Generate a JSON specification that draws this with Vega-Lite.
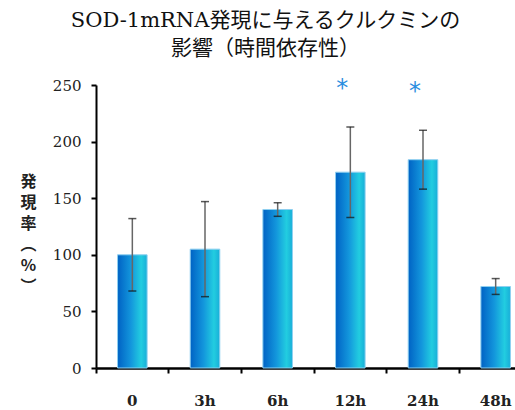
{
  "$schema": "https://vega.github.io/schema/vega-lite/v6.json",
  "autosize": "none",
  "padding": {"left": 96, "top": 85, "right": 0, "bottom": 42},
  "width": 419,
  "height": 283,
  "background": "white",
  "config": {"view": {"stroke": null}},
  "title": {
    "text": ["SOD-1mRNA発現に与えるクルクミンの", "影響（時間依存性）"],
    "font": "DejaVu Serif, Noto Sans CJK JP",
    "fontSize": 21,
    "fontWeight": "normal",
    "color": "#111",
    "lineHeight": 28,
    "anchor": "middle",
    "frame": "group",
    "dx": -40,
    "offset": 18
  },
  "data": {
    "values": [
      {"cond": "0", "mean": 100, "lo": 68, "hi": 132, "sig": ""},
      {"cond": "3h", "mean": 105, "lo": 63, "hi": 147, "sig": ""},
      {"cond": "6h", "mean": 140, "lo": 134, "hi": 146, "sig": ""},
      {"cond": "12h", "mean": 173, "lo": 133, "hi": 213, "sig": "*"},
      {"cond": "24h", "mean": 184, "lo": 158, "hi": 210, "sig": "*"},
      {"cond": "48h", "mean": 72, "lo": 65, "hi": 79, "sig": ""}
    ]
  },
  "encoding": {
    "x": {
      "field": "cond",
      "type": "nominal",
      "sort": null,
      "scale": {"range": [0, 436], "paddingInner": 0, "paddingOuter": 0},
      "axis": {
        "title": null,
        "labelAngle": 0,
        "labelFont": "DejaVu Serif",
        "labelFontSize": 15,
        "labelFontWeight": "bold",
        "labelColor": "#222",
        "labelPadding": 20,
        "bandPosition": 0,
        "domainColor": "#000",
        "domainWidth": 2.5,
        "tickColor": "#000",
        "tickWidth": 2,
        "tickSize": 5,
        "grid": false
      }
    }
  },
  "layer": [
    {
      "mark": {
        "type": "bar",
        "width": {"band": 0.407},
        "stroke": "#8fd0f0",
        "strokeWidth": 1,
        "color": {
          "gradient": "linear",
          "x1": 0, "x2": 1, "y1": 0, "y2": 0,
          "stops": [
            {"offset": 0, "color": "#0062c4"},
            {"offset": 0.45, "color": "#1396dc"},
            {"offset": 0.8, "color": "#22cde0"},
            {"offset": 1, "color": "#18aed8"}
          ]
        }
      },
      "encoding": {
        "y": {
          "field": "mean",
          "type": "quantitative",
          "scale": {"domain": [0, 250], "nice": false},
          "axis": {
            "values": [0, 50, 100, 150, 200, 250],
            "title": ["発", "現", "率", "︵", "%", "︶"],
            "titleAngle": 0,
            "titleFont": "Noto Sans CJK JP",
            "titleFontSize": 16,
            "titleFontWeight": "bold",
            "titleColor": "#222",
            "titleLineHeight": 21,
            "titleAlign": "center",
            "titleBaseline": "top",
            "titleX": -68,
            "titleY": 88,
            "labelFont": "DejaVu Serif",
            "labelFontSize": 15,
            "labelColor": "#222",
            "labelPadding": 10,
            "domainColor": "#000",
            "domainWidth": 2,
            "tickColor": "#000",
            "tickWidth": 2,
            "tickSize": 5,
            "grid": false
          }
        }
      }
    },
    {
      "mark": {"type": "rule", "color": "#666", "strokeWidth": 1.5},
      "encoding": {
        "y": {"field": "lo", "type": "quantitative"},
        "y2": {"field": "hi"}
      }
    },
    {
      "mark": {"type": "tick", "color": "#111", "size": 8, "thickness": 1.5},
      "encoding": {"y": {"field": "lo", "type": "quantitative"}}
    },
    {
      "mark": {"type": "tick", "color": "#111", "size": 8, "thickness": 1.5},
      "encoding": {"y": {"field": "hi", "type": "quantitative"}}
    },
    {
      "mark": {
        "type": "text",
        "font": "DejaVu Sans",
        "fontSize": 24,
        "color": "#2a8ee0",
        "baseline": "middle",
        "dy": -38,
        "dx": -8
      },
      "encoding": {
        "y": {"field": "hi", "type": "quantitative"},
        "text": {"field": "sig"}
      }
    }
  ]
}
